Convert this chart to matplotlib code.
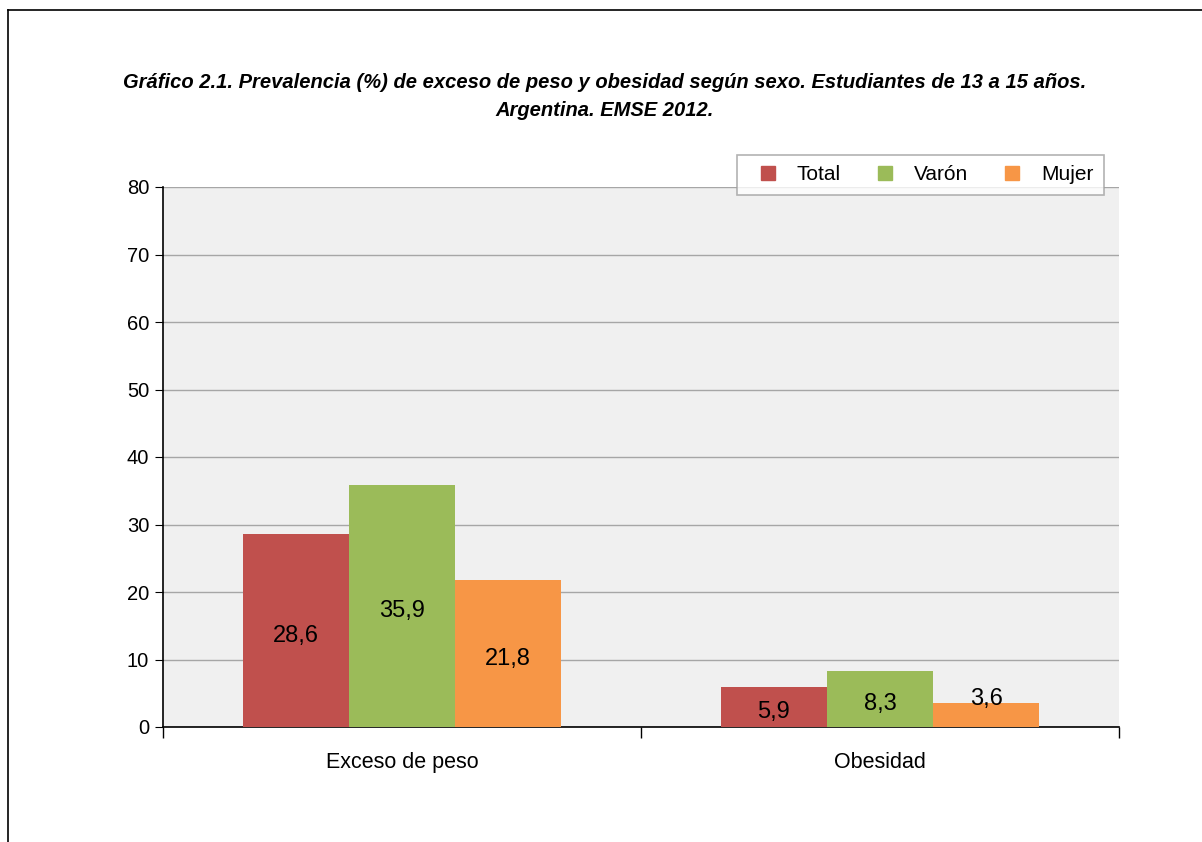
import matplotlib.pyplot as plt
from matplotlib.lines import Line2D
import numpy as np

# Datos del grafico
categorias = ["Exceso de peso", "Obesidad"]
series = ["Total", "Varón", "Mujer"]
total = [28.6, 5.9]
varon = [35.9, 8.3]
mujer = [21.8, 3.6]
colores = ["#C0504D", "#9BBB59", "#F79646"]

titulo = ("Gráfico 2.1. Prevalencia (%) de exceso de peso y obesidad según sexo. "
          "Estudiantes de 13 a 15 años.\nArgentina. EMSE 2012.")

plt.rcParams['font.family'] = ['Liberation Sans', 'DejaVu Sans']

fig = plt.figure(figsize=(12.02, 8.42), dpi=100)
ax = fig.add_axes([163 / 1202, 115 / 842, 956 / 1202, 540 / 842])

x = np.arange(len(categorias))
ancho = 0.222
valores = [total, varon, mujer]
for i, (nombre, vals, color) in enumerate(zip(series, valores, colores)):
    pos = x + (i - 1) * ancho
    ax.bar(pos, vals, width=ancho, color=color, label=nombre, zorder=3)
    for px, v in zip(pos, vals):
        # valores chicos van arriba de la barra
        y_txt = v / 2 - 0.8 if v > 4 else v + 0.5
        ax.text(px, y_txt, f"{v:.1f}".replace(".", ","),
                ha="center", va="center", fontsize=17, color="black", zorder=4)

ax.set_xlim(-0.5, 1.5)
ax.set_ylim(0, 80)
ax.set_yticks(range(0, 81, 10))
ax.set_xticks([-0.5, 0.5, 1.5], minor=False)
ax.set_xticklabels(["", "", ""])
ax.set_xticks(x, minor=True)
ax.set_xticklabels(categorias, minor=True)
ax.tick_params(axis="x", which="minor", length=0, pad=18, labelsize=15.5)
ax.tick_params(axis="x", which="major", length=8, direction="out", width=1)
ax.tick_params(axis="y", length=6, direction="out", labelsize=14.5, pad=4)

ax.set_facecolor("#f0f0f0")
ax.grid(axis="y", color="#a6a6a6", linewidth=1, zorder=1)
ax.set_axisbelow(True)
for lado in ["top", "right"]:
    ax.spines[lado].set_visible(False)
for lado in ["left", "bottom"]:
    ax.spines[lado].set_color("black")
    ax.spines[lado].set_linewidth(1.2)

# Leyenda
handles = [Line2D([0], [0], marker="s", linestyle="none", markersize=10,
                  markerfacecolor=c, markeredgecolor=c) for c in colores]
leg = fig.legend(handles, series, ncol=3, loc="upper right",
                 bbox_to_anchor=(1104 / 1202, 1 - 155 / 842), fontsize=15,
                 frameon=True, fancybox=False, edgecolor="#a0a0a0",
                 columnspacing=1.1, handletextpad=0.4, borderpad=0.5,
                 borderaxespad=0)
leg.get_frame().set_linewidth(1.2)

# Titulo
fig.text(605 / 1202, 1 - 96 / 842, titulo, ha="center", va="center",
         fontsize=14.5, fontweight="bold", style="italic",
         linespacing=1.6)

# Marco exterior
fig.add_artist(Line2D([8 / 1202, 1], [1 - 10 / 842, 1 - 10 / 842], color="black", lw=1.2))
fig.add_artist(Line2D([8 / 1202, 8 / 1202], [0, 1 - 10 / 842], color="black", lw=1.2))

fig.savefig("out.png", dpi=100)
